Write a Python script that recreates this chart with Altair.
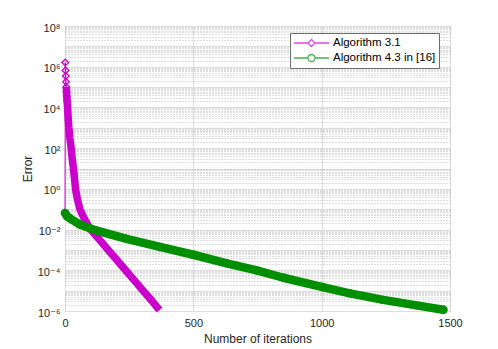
import altair as alt
import pandas as pd

SERIES = ["Algorithm 3.1", "Algorithm 4.3 in [16]"]
COLORS = ["#cc00cc", "#008f00"]

# Algorithm 3.1 (magenta, diamonds)
iter_a = [0, 1, 2, 3, 4, 5, 6, 7, 8, 9, 10, 12, 15, 19, 24, 28, 33, 37, 41, 48,
          58, 76, 100, 134, 168, 202, 236, 270, 304, 338, 368]
err_a = [6.5e-2, 1.6e6, 6.6e5, 3.5e5, 1.8e5, 1.0e5, 5.9e4, 3.5e4, 2.2e4, 1.5e4,
         1.0e4, 3.5e3, 1.0e3, 3.2e2, 1.0e2, 3.2e1, 1.0e1, 3.2, 1.0, 3.2e-1,
         1.0e-1, 3.2e-2, 1.0e-2, 3.2e-3, 1.0e-3, 3.2e-4, 1.0e-4, 3.2e-5, 1.0e-5,
         3.2e-6, 1.1e-6]

# Algorithm 4.3 in [16] (green, circles)
iter_b = [0, 8, 20, 58, 110, 240, 370, 500, 630, 747, 851, 1004, 1110, 1240, 1370, 1474]
err_b = [6.5e-2, 4.5e-2, 3.5e-2, 1.75e-2, 1.0e-2, 3.5e-3, 1.4e-3, 5.8e-4, 2.2e-4,
         9.8e-5, 4.3e-5, 1.5e-5, 7.4e-6, 3.5e-6, 1.9e-6, 1.15e-6]

X_TICKS = [0, 500, 1000, 1500]
Y_DECADES = [10.0 ** k for k in range(-6, 9)]
Y_TICK_LABELS = {8: "10⁸", 6: "10⁶", 4: "10⁴", 2: "10²", 0: "10⁰",
                 -2: "10⁻²", -4: "10⁻⁴", -6: "10⁻⁶"}
Y_MINOR = [m * 10.0 ** k for k in range(-6, 8) for m in range(2, 10)]

df_a = pd.DataFrame({"iter": iter_a, "err": err_a, "alg": SERIES[0]})
df_b = pd.DataFrame({"iter": iter_b, "err": err_b, "alg": SERIES[1]})

FONT = "Liberation Sans, Arial, DejaVu Sans"
xs = alt.Scale(domain=[0, 1500], nice=False, zero=False)
ys = alt.Scale(type="log", domain=[1e-6, 1e8], nice=False)

label_expr = "".join(
    f"round(log(datum.value)/LN10) == {k} ? '{v}' : " for k, v in Y_TICK_LABELS.items()
) + "''"

x_axis = alt.Axis(values=X_TICKS, format="d", grid=True, gridColor="#dcdcdc", ticks=False,
                  tickSize=0, domain=False, labelFlush=False, labelFont=FONT, labelFontSize=11,
                  labelColor="#262626", labelPadding=6, title="Number of iterations",
                  titleFont=FONT, titleFontSize=12, titleFontWeight="normal",
                  titleColor="#262626", titlePadding=5)
y_axis = alt.Axis(values=Y_DECADES, grid=True, gridColor="#dcdcdc", ticks=False, tickSize=0,
                  domain=False, labelExpr=label_expr, labelFont=FONT, labelFontSize=11,
                  labelColor="#262626", labelPadding=5, labelOffset=2, title="Error",
                  titleFont=FONT, titleFontSize=12, titleFontWeight="normal",
                  titleColor="#262626", titlePadding=3)

X = alt.X("iter:Q", scale=xs, axis=x_axis)
Y = alt.Y("err:Q", scale=ys, axis=y_axis)

a_thin = alt.Chart(df_a).mark_line(color=COLORS[0], strokeWidth=1).encode(x=X, y=Y)
a_thick = alt.Chart(df_a).transform_filter(alt.datum.iter >= 5).mark_line(
    color=COLORS[0], strokeWidth=7.5, strokeCap="butt", strokeJoin="round").encode(x=X, y=Y)
a_pts = alt.Chart(df_a).transform_filter(alt.datum.iter <= 8).mark_point(
    shape="diamond", filled=False, size=45, strokeWidth=1.3,
    color=COLORS[0], opacity=1).encode(x=X, y=Y)
b_thick = alt.Chart(df_b).mark_line(color=COLORS[1], strokeWidth=8.5, strokeCap="round",
                                    strokeJoin="round").encode(x=X, y=Y)
b_pts = alt.Chart(df_b).mark_point(shape="circle", filled=False, size=50, strokeWidth=1.3,
                                   color=COLORS[1], opacity=1).encode(x=X, y=Y)

main = alt.layer(a_thin, a_thick, a_pts, b_thick, b_pts)

minor = alt.Chart(df_b).mark_point(opacity=0).encode(
    x=alt.X("iter:Q", scale=xs, axis=None),
    y=alt.Y("err:Q", scale=ys, axis=alt.Axis(orient="right", values=Y_MINOR, grid=True,
                                             gridDash=[1, 2], gridColor="#bcbcbc",
                                             labels=False, ticks=False, tickSize=0,
                                             domain=False, title=None)),
)

PATH_D = "M-1,0H-0.2M0.2,0H1M0,-0.2L0.2,0L0,0.2L-0.2,0Z"
PATH_O = "M-1,0H-0.2M0.2,0H1M-0.2,0A0.2,0.2 0 1,0 0.2,0A0.2,0.2 0 1,0 -0.2,0Z"

leg = alt.Legend(title=None, orient="none", legendX=225, legendY=7)
legend_layer = alt.Chart(df_a).transform_filter("false").mark_point(
    filled=False, strokeWidth=1.3).encode(
    color=alt.Color("alg:N", scale=alt.Scale(domain=SERIES, range=COLORS), legend=leg),
    shape=alt.Shape("alg:N", scale=alt.Scale(domain=SERIES, range=[PATH_D, PATH_O]), legend=leg),
)

chart = alt.layer(main, minor, legend_layer).resolve_axis(
    x="independent", y="independent"
).properties(
    width=385, height=285,
    autosize=alt.AutoSizeParams(type="none"),
    padding={"left": 57, "top": 18, "right": 30, "bottom": 35},
).configure_view(
    stroke="#808080", strokeWidth=1
).configure_legend(
    padding=3, strokeColor="#6e6e6e", fillColor="white", labelFont=FONT,
    labelFontSize=11.5, labelColor="#000000", symbolSize=1225, symbolStrokeWidth=1.3,
    clipHeight=14, rowPadding=1, labelOffset=3, cornerRadius=0, symbolOffset=0,
)

chart.save("out.html", embed_options={"renderer": "svg", "actions": False})
